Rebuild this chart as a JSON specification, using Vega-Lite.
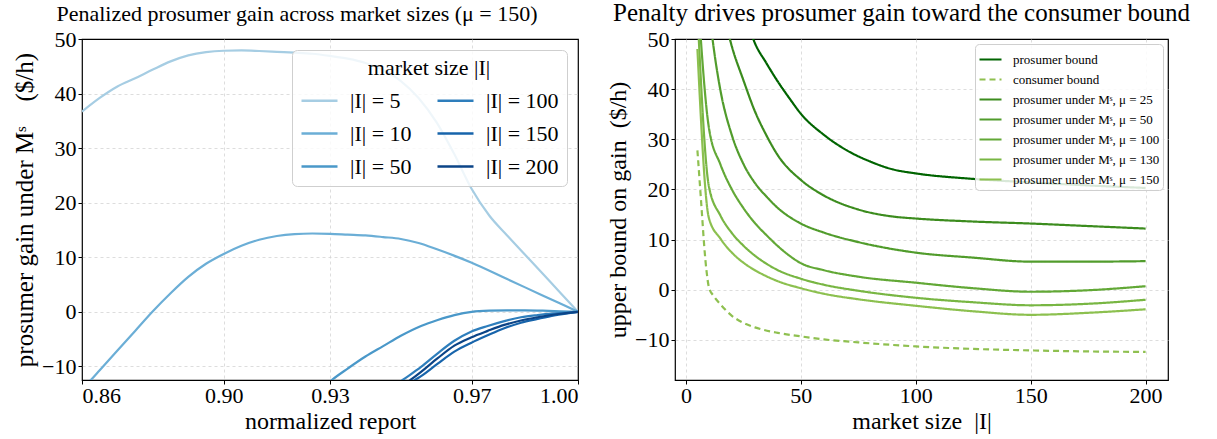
{
"$schema": "https://vega.github.io/schema/vega-lite/v6.json",
"background": "white",
"padding": {"left": 11, "top": 0, "right": 5, "bottom": 0},
"spacing": 25,
"config": {
  "font": "Liberation Serif",
  "view": {"stroke": "black", "strokeWidth": 1.2},
  "axis": {"domain": false, "grid": true, "gridColor": "#d4d4d4", "gridDash": [3, 3], "gridWidth": 0.8, "tickColor": "black", "tickSize": 4, "labelFont": "Liberation Serif", "labelFontSize": 22, "labelColor": "black", "titleFont": "Liberation Serif", "titleFontSize": 24, "titleFontWeight": "normal", "titleColor": "black", "labelPadding": 2},
  "axisX": {"labelPadding": 1, "titlePadding": 3},
  "title": {"font": "Liberation Serif", "fontSize": 22, "fontWeight": "normal", "color": "black", "frame": "group", "offset": 2},
  "legend": {"labelFont": "Liberation Serif", "titleFont": "Liberation Serif", "labelColor": "black", "titleColor": "black", "labelLimit": 400}
},
"datasets": {
  "left": [
    {"s": "|I| = 5", "x": 0.86, "y": 36.7}, {"s": "|I| = 5", "x": 0.865, "y": 39.2}, {"s": "|I| = 5", "x": 0.87, "y": 41.3}, {"s": "|I| = 5", "x": 0.875, "y": 42.8}, {"s": "|I| = 5", "x": 0.88, "y": 44.4}, {"s": "|I| = 5", "x": 0.885, "y": 45.9}, {"s": "|I| = 5", "x": 0.89, "y": 47.0}, {"s": "|I| = 5", "x": 0.895, "y": 47.6}, {"s": "|I| = 5", "x": 0.9, "y": 47.85}, {"s": "|I| = 5", "x": 0.905, "y": 47.9}, {"s": "|I| = 5", "x": 0.91, "y": 47.8}, {"s": "|I| = 5", "x": 0.915, "y": 47.65}, {"s": "|I| = 5", "x": 0.92, "y": 47.5}, {"s": "|I| = 5", "x": 0.925, "y": 47.3}, {"s": "|I| = 5", "x": 0.93, "y": 46.9}, {"s": "|I| = 5", "x": 0.935, "y": 46.4}, {"s": "|I| = 5", "x": 0.94, "y": 45.6}, {"s": "|I| = 5", "x": 0.945, "y": 44.3}, {"s": "|I| = 5", "x": 0.95, "y": 42.3}, {"s": "|I| = 5", "x": 0.955, "y": 39.2}, {"s": "|I| = 5", "x": 0.96, "y": 34.8}, {"s": "|I| = 5", "x": 0.965, "y": 29.0}, {"s": "|I| = 5", "x": 0.97, "y": 22.5}, {"s": "|I| = 5", "x": 0.975, "y": 17.6}, {"s": "|I| = 5", "x": 0.98, "y": 14.0}, {"s": "|I| = 5", "x": 0.985, "y": 10.5}, {"s": "|I| = 5", "x": 0.99, "y": 7.0}, {"s": "|I| = 5", "x": 0.995, "y": 3.5}, {"s": "|I| = 5", "x": 1.0, "y": 0},
    {"s": "|I| = 10", "x": 0.86, "y": -14.2}, {"s": "|I| = 10", "x": 0.8625, "y": -12.5}, {"s": "|I| = 10", "x": 0.865, "y": -10.7}, {"s": "|I| = 10", "x": 0.87, "y": -7.1}, {"s": "|I| = 10", "x": 0.875, "y": -3.5}, {"s": "|I| = 10", "x": 0.88, "y": 0.1}, {"s": "|I| = 10", "x": 0.885, "y": 3.4}, {"s": "|I| = 10", "x": 0.89, "y": 6.4}, {"s": "|I| = 10", "x": 0.895, "y": 8.8}, {"s": "|I| = 10", "x": 0.9, "y": 10.6}, {"s": "|I| = 10", "x": 0.905, "y": 12.1}, {"s": "|I| = 10", "x": 0.91, "y": 13.2}, {"s": "|I| = 10", "x": 0.915, "y": 13.9}, {"s": "|I| = 10", "x": 0.92, "y": 14.25}, {"s": "|I| = 10", "x": 0.925, "y": 14.35}, {"s": "|I| = 10", "x": 0.93, "y": 14.3}, {"s": "|I| = 10", "x": 0.935, "y": 14.15}, {"s": "|I| = 10", "x": 0.94, "y": 14.0}, {"s": "|I| = 10", "x": 0.945, "y": 13.7}, {"s": "|I| = 10", "x": 0.95, "y": 13.35}, {"s": "|I| = 10", "x": 0.955, "y": 12.6}, {"s": "|I| = 10", "x": 0.96, "y": 11.5}, {"s": "|I| = 10", "x": 0.965, "y": 10.3}, {"s": "|I| = 10", "x": 0.97, "y": 9.0}, {"s": "|I| = 10", "x": 0.98, "y": 6.0}, {"s": "|I| = 10", "x": 0.99, "y": 3.0}, {"s": "|I| = 10", "x": 1.0, "y": 0},
    {"s": "|I| = 50", "x": 0.929, "y": -13.3}, {"s": "|I| = 50", "x": 0.9305, "y": -12.5}, {"s": "|I| = 50", "x": 0.935, "y": -10.4}, {"s": "|I| = 50", "x": 0.94, "y": -8.2}, {"s": "|I| = 50", "x": 0.945, "y": -6.3}, {"s": "|I| = 50", "x": 0.95, "y": -4.4}, {"s": "|I| = 50", "x": 0.9557, "y": -2.6}, {"s": "|I| = 50", "x": 0.9604, "y": -1.5}, {"s": "|I| = 50", "x": 0.9651, "y": -0.6}, {"s": "|I| = 50", "x": 0.97, "y": 0.0}, {"s": "|I| = 50", "x": 0.975, "y": 0.2}, {"s": "|I| = 50", "x": 0.98, "y": 0.25}, {"s": "|I| = 50", "x": 0.985, "y": 0.25}, {"s": "|I| = 50", "x": 0.99, "y": 0.2}, {"s": "|I| = 50", "x": 0.995, "y": 0.1}, {"s": "|I| = 50", "x": 1.0, "y": 0},
    {"s": "|I| = 100", "x": 0.949, "y": -13.2}, {"s": "|I| = 100", "x": 0.9505, "y": -12.5}, {"s": "|I| = 100", "x": 0.9557, "y": -10.1}, {"s": "|I| = 100", "x": 0.9604, "y": -7.6}, {"s": "|I| = 100", "x": 0.9651, "y": -5.3}, {"s": "|I| = 100", "x": 0.9698, "y": -3.65}, {"s": "|I| = 100", "x": 0.9745, "y": -2.6}, {"s": "|I| = 100", "x": 0.9792, "y": -1.7}, {"s": "|I| = 100", "x": 0.9839, "y": -1.0}, {"s": "|I| = 100", "x": 0.9886, "y": -0.6}, {"s": "|I| = 100", "x": 0.9933, "y": -0.3}, {"s": "|I| = 100", "x": 1.0, "y": 0},
    {"s": "|I| = 150", "x": 0.9525, "y": -13.3}, {"s": "|I| = 150", "x": 0.954, "y": -12.5}, {"s": "|I| = 150", "x": 0.9557, "y": -11.8}, {"s": "|I| = 150", "x": 0.9604, "y": -9.5}, {"s": "|I| = 150", "x": 0.9651, "y": -7.3}, {"s": "|I| = 150", "x": 0.9698, "y": -5.7}, {"s": "|I| = 150", "x": 0.9745, "y": -4.3}, {"s": "|I| = 150", "x": 0.9792, "y": -3.0}, {"s": "|I| = 150", "x": 0.9839, "y": -2.0}, {"s": "|I| = 150", "x": 0.9886, "y": -1.3}, {"s": "|I| = 150", "x": 0.9933, "y": -0.65}, {"s": "|I| = 150", "x": 1.0, "y": 0},
    {"s": "|I| = 200", "x": 0.951, "y": -13.3}, {"s": "|I| = 200", "x": 0.9527, "y": -12.5}, {"s": "|I| = 200", "x": 0.9557, "y": -11.0}, {"s": "|I| = 200", "x": 0.9604, "y": -8.5}, {"s": "|I| = 200", "x": 0.9651, "y": -6.2}, {"s": "|I| = 200", "x": 0.9698, "y": -4.7}, {"s": "|I| = 200", "x": 0.9745, "y": -3.5}, {"s": "|I| = 200", "x": 0.9792, "y": -2.4}, {"s": "|I| = 200", "x": 0.9839, "y": -1.6}, {"s": "|I| = 200", "x": 0.9886, "y": -1.0}, {"s": "|I| = 200", "x": 0.9933, "y": -0.5}, {"s": "|I| = 200", "x": 1.0, "y": 0}
  ],
  "right": [
    {"s": "prosumer bound", "x": 25, "y": 56}, {"s": "prosumer bound", "x": 30, "y": 49.2}, {"s": "prosumer bound", "x": 35, "y": 45.2}, {"s": "prosumer bound", "x": 40, "y": 41.5}, {"s": "prosumer bound", "x": 45, "y": 38.2}, {"s": "prosumer bound", "x": 50, "y": 35.1}, {"s": "prosumer bound", "x": 60, "y": 30.9}, {"s": "prosumer bound", "x": 70, "y": 27.8}, {"s": "prosumer bound", "x": 80, "y": 25.6}, {"s": "prosumer bound", "x": 90, "y": 24.0}, {"s": "prosumer bound", "x": 100, "y": 23.2}, {"s": "prosumer bound", "x": 125, "y": 22.1}, {"s": "prosumer bound", "x": 150, "y": 21.4}, {"s": "prosumer bound", "x": 175, "y": 20.8}, {"s": "prosumer bound", "x": 200, "y": 20.3},
    {"s": "consumer bound", "x": 5, "y": 27.8}, {"s": "consumer bound", "x": 6, "y": 21.5}, {"s": "consumer bound", "x": 7, "y": 15.0}, {"s": "consumer bound", "x": 8, "y": 8.5}, {"s": "consumer bound", "x": 9, "y": 3.6}, {"s": "consumer bound", "x": 10, "y": 0.5}, {"s": "consumer bound", "x": 12, "y": -1.2}, {"s": "consumer bound", "x": 15, "y": -2.9}, {"s": "consumer bound", "x": 20, "y": -5.2}, {"s": "consumer bound", "x": 25, "y": -6.6}, {"s": "consumer bound", "x": 30, "y": -7.5}, {"s": "consumer bound", "x": 40, "y": -8.6}, {"s": "consumer bound", "x": 50, "y": -9.3}, {"s": "consumer bound", "x": 60, "y": -9.9}, {"s": "consumer bound", "x": 75, "y": -10.5}, {"s": "consumer bound", "x": 100, "y": -11.3}, {"s": "consumer bound", "x": 125, "y": -11.8}, {"s": "consumer bound", "x": 150, "y": -12.1}, {"s": "consumer bound", "x": 175, "y": -12.3}, {"s": "consumer bound", "x": 200, "y": -12.4},
    {"s": "prosumer under Mˢ, μ = 25", "x": 15, "y": 58}, {"s": "prosumer under Mˢ, μ = 25", "x": 20, "y": 48.5}, {"s": "prosumer under Mˢ, μ = 25", "x": 25, "y": 41.8}, {"s": "prosumer under Mˢ, μ = 25", "x": 30, "y": 35.6}, {"s": "prosumer under Mˢ, μ = 25", "x": 35, "y": 30.8}, {"s": "prosumer under Mˢ, μ = 25", "x": 40, "y": 26.8}, {"s": "prosumer under Mˢ, μ = 25", "x": 50, "y": 21.9}, {"s": "prosumer under Mˢ, μ = 25", "x": 60, "y": 18.8}, {"s": "prosumer under Mˢ, μ = 25", "x": 75, "y": 16.0}, {"s": "prosumer under Mˢ, μ = 25", "x": 90, "y": 14.6}, {"s": "prosumer under Mˢ, μ = 25", "x": 100, "y": 14.2}, {"s": "prosumer under Mˢ, μ = 25", "x": 125, "y": 13.6}, {"s": "prosumer under Mˢ, μ = 25", "x": 150, "y": 13.2}, {"s": "prosumer under Mˢ, μ = 25", "x": 175, "y": 12.7}, {"s": "prosumer under Mˢ, μ = 25", "x": 200, "y": 12.2},
    {"s": "prosumer under Mˢ, μ = 50", "x": 10, "y": 56}, {"s": "prosumer under Mˢ, μ = 50", "x": 12, "y": 48.5}, {"s": "prosumer under Mˢ, μ = 50", "x": 15, "y": 39.8}, {"s": "prosumer under Mˢ, μ = 50", "x": 20, "y": 30.8}, {"s": "prosumer under Mˢ, μ = 50", "x": 25, "y": 25.1}, {"s": "prosumer under Mˢ, μ = 50", "x": 30, "y": 21.3}, {"s": "prosumer under Mˢ, μ = 50", "x": 35, "y": 18.6}, {"s": "prosumer under Mˢ, μ = 50", "x": 40, "y": 16.3}, {"s": "prosumer under Mˢ, μ = 50", "x": 50, "y": 13.2}, {"s": "prosumer under Mˢ, μ = 50", "x": 60, "y": 11.4}, {"s": "prosumer under Mˢ, μ = 50", "x": 75, "y": 9.5}, {"s": "prosumer under Mˢ, μ = 50", "x": 90, "y": 8.1}, {"s": "prosumer under Mˢ, μ = 50", "x": 100, "y": 7.4}, {"s": "prosumer under Mˢ, μ = 50", "x": 125, "y": 6.4}, {"s": "prosumer under Mˢ, μ = 50", "x": 150, "y": 5.6}, {"s": "prosumer under Mˢ, μ = 50", "x": 175, "y": 5.6}, {"s": "prosumer under Mˢ, μ = 50", "x": 200, "y": 5.7},
    {"s": "prosumer under Mˢ, μ = 100", "x": 5, "y": 60}, {"s": "prosumer under Mˢ, μ = 100", "x": 10, "y": 32.3}, {"s": "prosumer under Mˢ, μ = 100", "x": 15, "y": 25.0}, {"s": "prosumer under Mˢ, μ = 100", "x": 20, "y": 20.0}, {"s": "prosumer under Mˢ, μ = 100", "x": 25, "y": 16.3}, {"s": "prosumer under Mˢ, μ = 100", "x": 30, "y": 13.3}, {"s": "prosumer under Mˢ, μ = 100", "x": 35, "y": 10.9}, {"s": "prosumer under Mˢ, μ = 100", "x": 40, "y": 8.7}, {"s": "prosumer under Mˢ, μ = 100", "x": 45, "y": 6.8}, {"s": "prosumer under Mˢ, μ = 100", "x": 50, "y": 5.3}, {"s": "prosumer under Mˢ, μ = 100", "x": 60, "y": 3.9}, {"s": "prosumer under Mˢ, μ = 100", "x": 75, "y": 2.6}, {"s": "prosumer under Mˢ, μ = 100", "x": 100, "y": 1.4}, {"s": "prosumer under Mˢ, μ = 100", "x": 125, "y": 0.3}, {"s": "prosumer under Mˢ, μ = 100", "x": 150, "y": -0.4}, {"s": "prosumer under Mˢ, μ = 100", "x": 175, "y": -0.1}, {"s": "prosumer under Mˢ, μ = 100", "x": 200, "y": 0.7},
    {"s": "prosumer under Mˢ, μ = 130", "x": 5, "y": 55.6}, {"s": "prosumer under Mˢ, μ = 130", "x": 10, "y": 20.6}, {"s": "prosumer under Mˢ, μ = 130", "x": 15, "y": 14.8}, {"s": "prosumer under Mˢ, μ = 130", "x": 20, "y": 11.3}, {"s": "prosumer under Mˢ, μ = 130", "x": 25, "y": 8.8}, {"s": "prosumer under Mˢ, μ = 130", "x": 30, "y": 6.8}, {"s": "prosumer under Mˢ, μ = 130", "x": 35, "y": 5.2}, {"s": "prosumer under Mˢ, μ = 130", "x": 40, "y": 3.9}, {"s": "prosumer under Mˢ, μ = 130", "x": 50, "y": 2.2}, {"s": "prosumer under Mˢ, μ = 130", "x": 60, "y": 1.0}, {"s": "prosumer under Mˢ, μ = 130", "x": 75, "y": -0.2}, {"s": "prosumer under Mˢ, μ = 130", "x": 100, "y": -1.6}, {"s": "prosumer under Mˢ, μ = 130", "x": 125, "y": -2.5}, {"s": "prosumer under Mˢ, μ = 130", "x": 150, "y": -3.1}, {"s": "prosumer under Mˢ, μ = 130", "x": 175, "y": -2.8}, {"s": "prosumer under Mˢ, μ = 130", "x": 200, "y": -2.0},
    {"s": "prosumer under Mˢ, μ = 150", "x": 5, "y": 48}, {"s": "prosumer under Mˢ, μ = 150", "x": 10, "y": 14.3}, {"s": "prosumer under Mˢ, μ = 150", "x": 15, "y": 10.2}, {"s": "prosumer under Mˢ, μ = 150", "x": 20, "y": 7.4}, {"s": "prosumer under Mˢ, μ = 150", "x": 25, "y": 5.4}, {"s": "prosumer under Mˢ, μ = 150", "x": 30, "y": 3.9}, {"s": "prosumer under Mˢ, μ = 150", "x": 35, "y": 2.7}, {"s": "prosumer under Mˢ, μ = 150", "x": 40, "y": 1.7}, {"s": "prosumer under Mˢ, μ = 150", "x": 50, "y": 0.3}, {"s": "prosumer under Mˢ, μ = 150", "x": 60, "y": -0.8}, {"s": "prosumer under Mˢ, μ = 150", "x": 75, "y": -1.9}, {"s": "prosumer under Mˢ, μ = 150", "x": 100, "y": -3.2}, {"s": "prosumer under Mˢ, μ = 150", "x": 125, "y": -4.3}, {"s": "prosumer under Mˢ, μ = 150", "x": 150, "y": -5.0}, {"s": "prosumer under Mˢ, μ = 150", "x": 175, "y": -4.6}, {"s": "prosumer under Mˢ, μ = 150", "x": 200, "y": -3.9}
  ]
},
"resolve": {"scale": {"color": "independent", "strokeDash": "independent"}, "legend": {"color": "independent", "strokeDash": "independent"}},
"hconcat": [
  {
    "width": 496, "height": 341,
    "title": {"text": "Penalized prosumer gain across market sizes (μ = 150)", "dx": -33},
    "data": {"name": "left"},
    "mark": {"type": "line", "clip": true, "strokeWidth": 2.2, "interpolate": "monotone"},
    "encoding": {
      "x": {"field": "x", "type": "quantitative", "scale": {"domain": [0.86, 1.0], "nice": false, "zero": false}, "axis": {"values": [0.86, 0.9, 0.93, 0.97, 1.0], "format": ".2f", "title": "normalized report", "gridOpacity": {"condition": {"test": "datum.value <= 0.8601 || datum.value >= 0.9999", "value": 0}, "value": 1}}},
      "y": {"field": "y", "type": "quantitative", "scale": {"domain": [-12.5, 50], "nice": false, "zero": false}, "axis": {"values": [-10, 0, 10, 20, 30, 40, 50], "title": "prosumer gain under Mˢ\u00a0\u00a0\u00a0 ($/h)", "titleFontSize": 25, "gridOpacity": {"condition": {"test": "datum.value >= 50", "value": 0}, "value": 1}}},
      "color": {"field": "s", "type": "nominal",
        "scale": {"domain": ["|I| = 5", "|I| = 10", "|I| = 50", "|I| = 100", "|I| = 150", "|I| = 200"], "range": ["#a6cde3", "#6baed6", "#4a98c9", "#2e7ebc", "#1764ab", "#0b4487"]},
        "legend": {"title": "market size |I|", "orient": "top-right", "offset": 11, "columns": 2, "symbolType": "stroke", "symbolSize": 1296, "symbolStrokeWidth": 2.5, "labelFontSize": 22, "titleFontSize": 22, "titleFontWeight": "normal", "titleAnchor": "middle", "titlePadding": 1, "rowPadding": 2, "columnPadding": 20, "labelOffset": 11, "padding": 8, "fillColor": "rgba(255,255,255,0.82)", "strokeColor": "#cfcfcf", "cornerRadius": 5}}
    }
  },
  {
    "width": 493, "height": 341,
    "title": {"text": "Penalty drives prosumer gain toward the consumer bound", "fontSize": 25, "dx": -20},
    "data": {"name": "right"},
    "mark": {"type": "line", "clip": true, "strokeWidth": 2.2, "interpolate": "monotone"},
    "encoding": {
      "x": {"field": "x", "type": "quantitative", "scale": {"domain": [-4.75, 209.75], "nice": false, "zero": false}, "axis": {"values": [0, 50, 100, 150, 200], "title": "market size\u00a0 |I|"}},
      "y": {"field": "y", "type": "quantitative", "scale": {"domain": [-18, 50], "nice": false, "zero": false}, "axis": {"values": [-10, 0, 10, 20, 30, 40, 50], "title": "upper bound on gain\u00a0 ($/h)", "gridOpacity": {"condition": {"test": "datum.value >= 50", "value": 0}, "value": 1}}},
      "color": {"field": "s", "type": "nominal",
        "scale": {"domain": ["prosumer bound", "consumer bound", "prosumer under Mˢ, μ = 25", "prosumer under Mˢ, μ = 50", "prosumer under Mˢ, μ = 100", "prosumer under Mˢ, μ = 130", "prosumer under Mˢ, μ = 150"], "range": ["#006400", "#8fc050", "#3c8c1e", "#519c2c", "#62a836", "#78b643", "#8cc04f"]},
        "legend": {"title": null, "orient": "top-right", "offset": 5, "symbolType": "stroke", "symbolSize": 484, "symbolStrokeWidth": 2.2, "labelFontSize": 13, "rowPadding": -2, "labelOffset": 10, "padding": 3, "fillColor": "rgba(255,255,255,0.85)", "strokeColor": "#cfcfcf", "cornerRadius": 4}},
      "strokeDash": {"field": "s", "type": "nominal",
        "scale": {"domain": ["prosumer bound", "consumer bound", "prosumer under Mˢ, μ = 25", "prosumer under Mˢ, μ = 50", "prosumer under Mˢ, μ = 100", "prosumer under Mˢ, μ = 130", "prosumer under Mˢ, μ = 150"], "range": [[1, 0], [6, 4], [1, 0], [1, 0], [1, 0], [1, 0], [1, 0]]},
        "legend": {"title": null, "orient": "top-right", "offset": 5, "symbolType": "stroke", "symbolSize": 484, "symbolStrokeWidth": 2.2, "labelFontSize": 13, "rowPadding": -2, "labelOffset": 10, "padding": 3, "fillColor": "rgba(255,255,255,0.85)", "strokeColor": "#cfcfcf", "cornerRadius": 4}}
    }
  }
]
}
